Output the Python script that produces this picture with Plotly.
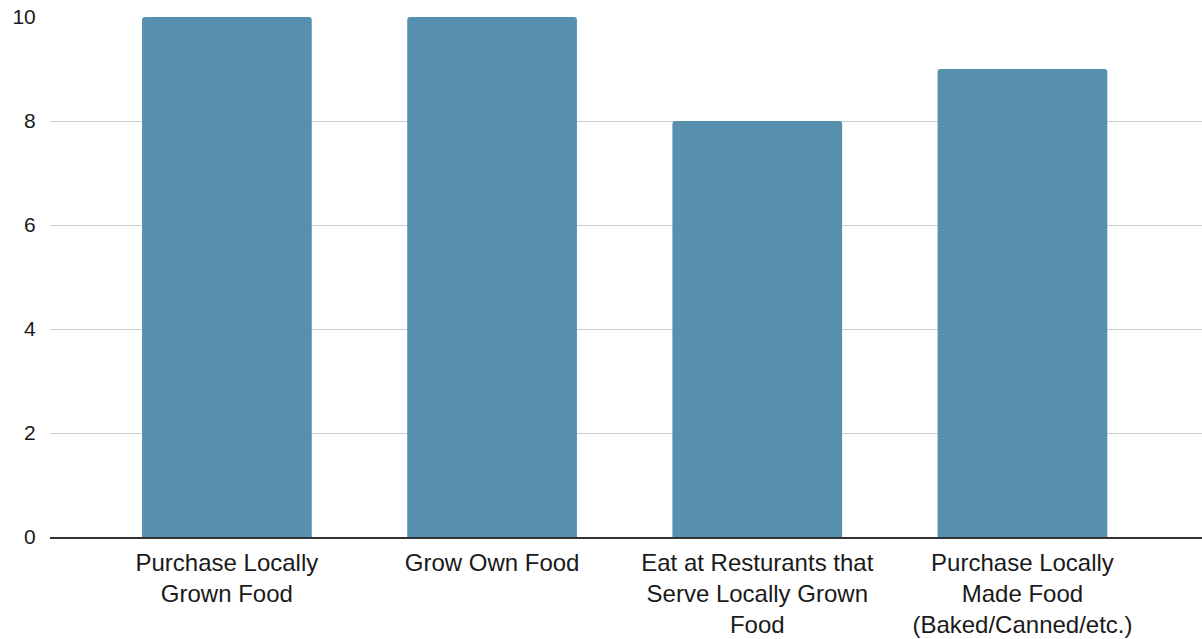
import plotly.graph_objects as go

categories = [
    "Purchase Locally<br>Grown Food",
    "Grow Own Food",
    "Eat at Resturants that<br>Serve Locally Grown<br>Food",
    "Purchase Locally<br>Made Food<br>(Baked/Canned/etc.)",
]
values = [10, 10, 8, 9]
y_ticks = [0, 2, 4, 6, 8, 10]

fig = go.Figure(
    go.Bar(
        x=list(range(len(categories))),
        y=values,
        marker=dict(color="#5790AE", line=dict(width=0)),
        width=0.64,
    )
)
fig.update_layout(
    width=1202,
    height=639,
    margin=dict(l=50, r=0, t=17, b=102, autoexpand=False),
    plot_bgcolor="white",
    paper_bgcolor="white",
    barcornerradius=3,
    font=dict(family="Liberation Sans, Arial, sans-serif", size=21, color="#1a1a1a"),
    showlegend=False,
    xaxis=dict(
        range=[-0.667, 3.677],
        tickmode="array",
        tickvals=list(range(len(categories))),
        ticktext=categories,
        tickfont=dict(size=24),
        showgrid=False,
        zeroline=False,
        showline=True,
        linecolor="#333333",
        linewidth=2,
        ticks="outside",
        ticklen=3,
        tickcolor="rgba(0,0,0,0)",
        automargin=False,
    ),
    yaxis=dict(
        range=[0, 10],
        tickmode="array",
        tickvals=y_ticks,
        ticktext=[str(v) for v in y_ticks],
        tickfont=dict(size=21),
        ticklabeloverflow="allow",
        showgrid=True,
        gridcolor="#cccccc",
        gridwidth=1,
        zeroline=False,
        ticks="outside",
        ticklen=9,
        tickcolor="rgba(0,0,0,0)",
        automargin=False,
    ),
)
fig.write_html(
    "out.html",
    config={"displayModeBar": False},
    post_script="document.body.style.margin='0';document.body.style.overflow='hidden';",
)
